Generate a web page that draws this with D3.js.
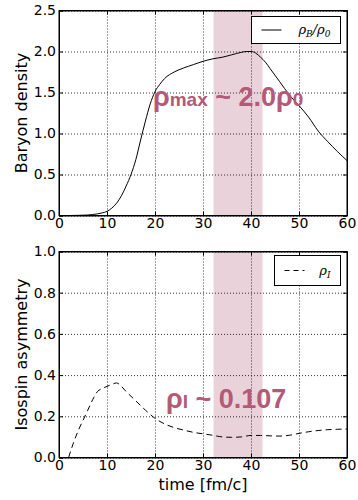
<!DOCTYPE html>
<html>
<head>
<meta charset="utf-8">
<script src="https://cdn.jsdelivr.net/npm/d3@7"></script>
<style>
  body { margin: 0; background: #fff; }
  .tick text { font-family: "DejaVu Sans", sans-serif; font-size: 14px; fill: #000; }
  .grid line { stroke: #000; stroke-dasharray: 1,2; stroke-width: 0.8; }
  .grid .domain { display: none; }
</style>
</head>
<body>
<div id="chart"></div>
<script>
// baryon density rho_B/rho_0 vs time
var timeB = [0, 2, 4, 6, 7, 8, 9, 10, 11, 12, 13, 14, 15, 16, 17, 18, 19, 20, 21, 22, 24, 26, 28, 30, 32, 34, 36, 38, 39, 40, 41, 42, 43, 44, 46, 48, 50, 52, 54, 56, 58, 60];
var baryon = [0, 0, 0.002, 0.006, 0.012, 0.02, 0.032, 0.05, 0.09, 0.15, 0.24, 0.36, 0.5, 0.68, 0.92, 1.15, 1.36, 1.51, 1.6, 1.67, 1.75, 1.8, 1.84, 1.88, 1.91, 1.93, 1.96, 1.99, 2.0, 2.0, 1.98, 1.93, 1.87, 1.79, 1.63, 1.47, 1.34, 1.2, 1.03, 0.9, 0.78, 0.67];

// isospin asymmetry rho_I vs time
var timeI = [2, 3, 4, 5, 6, 7, 8, 9, 10, 11, 12, 13, 14, 16, 18, 20, 22, 24, 26, 28, 30, 32, 34, 36, 38, 40, 42, 44, 46, 48, 50, 52, 54, 56, 58, 60];
var isospin = [0, 0.07, 0.13, 0.18, 0.23, 0.28, 0.32, 0.335, 0.345, 0.355, 0.362, 0.345, 0.32, 0.275, 0.23, 0.19, 0.163, 0.145, 0.133, 0.122, 0.115, 0.108, 0.1, 0.098, 0.1, 0.107, 0.107, 0.105, 0.104, 0.108, 0.117, 0.125, 0.131, 0.135, 0.137, 0.138];

var xTicks = [0, 10, 20, 30, 40, 50, 60];
var yTicksTop = [0, 0.5, 1.0, 1.5, 2.0, 2.5];
var yTicksBot = [0, 0.2, 0.4, 0.6, 0.8, 1.0];
var band = [32.2, 42.4];

var svgWidth = 358, svgHeight = 500;
var accent = "#b35a78";

var svg = d3.select("#chart").append("svg")
    .attr("width", svgWidth)
    .attr("height", svgHeight)
    .style("font-family", "DejaVu Sans, sans-serif");

var left = 59, right = 347;

function panel(top, bottom, yMax, yTicks, xs, ys, dashed, yLabel) {
    var x = d3.scaleLinear().domain([0, 60]).range([left, right]);
    var y = d3.scaleLinear().domain([0, yMax]).range([bottom, top]);
    var g = svg.append("g");

    // shaded band
    g.append("rect")
        .attr("x", x(band[0]))
        .attr("y", top)
        .attr("width", x(band[1]) - x(band[0]))
        .attr("height", bottom - top)
        .attr("fill", accent)
        .attr("opacity", 0.27);

    // grid
    g.append("g").attr("class", "grid")
        .attr("transform", `translate(0, ${bottom})`)
        .call(d3.axisBottom(x).tickValues(xTicks).tickSize(-(bottom - top)).tickFormat(""));
    g.append("g").attr("class", "grid")
        .attr("transform", `translate(${left}, 0)`)
        .call(d3.axisLeft(y).tickValues(yTicks).tickSize(-(right - left)).tickFormat(""));

    // axes with inward ticks
    g.append("g")
        .attr("transform", `translate(0, ${bottom})`)
        .call(d3.axisBottom(x).tickValues(xTicks).tickSize(-4).tickPadding(3).tickFormat(d3.format("d")));
    g.append("g")
        .attr("transform", `translate(${left}, 0)`)
        .call(d3.axisLeft(y).tickValues(yTicks).tickSize(-4).tickPadding(3).tickFormat(d3.format(".1f")));
    g.append("g")
        .attr("transform", `translate(0, ${top})`)
        .call(d3.axisTop(x).tickValues(xTicks).tickSize(-4).tickFormat(""));
    g.append("g")
        .attr("transform", `translate(${right}, 0)`)
        .call(d3.axisRight(y).tickValues(yTicks).tickSize(-4).tickFormat(""));
    g.selectAll(".domain").attr("stroke", "#000");

    // frame
    g.append("rect")
        .attr("x", left).attr("y", top)
        .attr("width", right - left).attr("height", bottom - top)
        .attr("fill", "none").attr("stroke", "#000").attr("stroke-width", 1);

    // curve
    var line = d3.line()
        .x((d, i) => x(xs[i]))
        .y(d => y(d))
        .curve(d3.curveMonotoneX);
    g.append("path")
        .datum(ys)
        .attr("d", line)
        .attr("fill", "none")
        .attr("stroke", "#000")
        .attr("stroke-width", 1)
        .attr("stroke-dasharray", dashed ? "6,4" : null);

    // y label
    g.append("text")
        .attr("transform", `translate(27, ${(top + bottom) / 2}) rotate(-90)`)
        .attr("text-anchor", "middle")
        .style("font-size", "16px")
        .style("font-weight", "normal")
        .text(yLabel);

    return { x: x, y: y, g: g };
}

panel(10.5, 215.5, 2.5, yTicksTop, timeB, baryon, false, "Baryon density");
panel(251.5, 457.5, 1.0, yTicksBot, timeI, isospin, true, "Isospin asymmetry");

svg.append("text")
    .attr("x", (left + right) / 2)
    .attr("y", 490)
    .attr("text-anchor", "middle")
    .style("font-size", "16px")
    .style("font-weight", "normal")
    .text("time [fm/c]");

// legends
function legend(x0, y0, w, h, dashed, parts) {
    var g = svg.append("g");
    g.append("rect")
        .attr("x", x0).attr("y", y0).attr("width", w).attr("height", h)
        .attr("fill", "#fff").attr("stroke", "#000").attr("stroke-width", 1);
    g.append("line")
        .attr("x1", x0 + 10).attr("x2", x0 + 30)
        .attr("y1", y0 + h / 2).attr("y2", y0 + h / 2)
        .attr("stroke", "#000")
        .attr("stroke-dasharray", dashed ? "5,4" : null);
    var t = g.append("text")
        .attr("x", x0 + w - 10)
        .attr("y", y0 + h / 2 + 4)
        .attr("text-anchor", "end")
        .style("font-family", "DejaVu Serif, serif")
        .style("font-style", "italic")
        .style("font-size", "13px");
    parts.forEach(p => {
        t.append("tspan")
            .attr("dy", p.sub ? 3 : (p.reset ? -3 : 0))
            .style("font-size", p.sub ? "9px" : "13px")
            .text(p.s);
    });
}
legend(251.5, 16.5, 89, 27, false, [
    { s: "ρ" }, { s: "B", sub: true }, { s: "/ρ", reset: true }, { s: "0", sub: true }
]);
legend(274.5, 255.5, 66, 30, true, [
    { s: "ρ" }, { s: "I", sub: true }
]);

// annotations
function note(xp, yp, parts) {
    var t = svg.append("text")
        .attr("x", xp).attr("y", yp)
        .attr("fill", accent)
        .style("font-family", "Liberation Sans, Arial, sans-serif")
        .style("font-weight", "bold");
    parts.forEach(p => {
        t.append("tspan")
            .style("font-size", p.size + "px")
            .text(p.s);
    });
}
note(153, 106, [
    { s: "ρ", size: 27 }, { s: "max", size: 19 }, { s: " ~ 2.0ρ", size: 27 }, { s: "0", size: 19 }
]);
note(166, 408, [
    { s: "ρ", size: 27 }, { s: "I", size: 19 }, { s: " ~ 0.107", size: 27 }
]);
</script>
</body>
</html>
